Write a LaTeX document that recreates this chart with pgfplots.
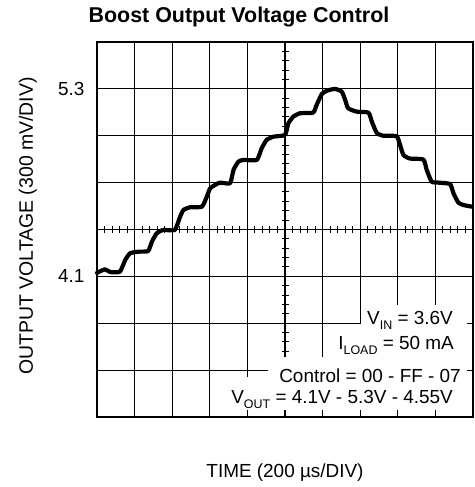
\documentclass[border=0pt]{standalone}
\usepackage{pgfplots}
\pgfplotsset{compat=1.18}
\usepackage{fontspec}
\setmainfont{Liberation Sans}
\newcommand{\sub}[1]{\raisebox{-0.5ex}{\fontsize{12.5}{13}\selectfont #1}}
\begin{document}
\begin{tikzpicture}
\path[use as bounding box] (-97bp,-70bp) rectangle (378bp,417bp);
\begin{axis}[
  at={(0,0)}, anchor=south west,
  scale only axis, width=376bp, height=375bp,
  xmin=0, xmax=10, ymin=3.2, ymax=5.6,
  xtick={0,1,2,3,4,5,6,7,8,9,10}, xticklabels={},
  ytick={3.2,3.5,3.8,4.1,4.4,4.7,5.0,5.3,5.6},
  yticklabels={,,,4.1,,,,5.3,},
  grid=major, major grid style={black, line width=1.1bp},
  tick align=inside, major tick length=5bp,
  tick style={black, line width=1.1bp},
  axis line style={black, line width=1.8bp},
  ticklabel style={font=\fontsize{19}{22}\selectfont},
  /pgf/number format/assume math mode=true,
  yticklabel style={xshift=-9bp},
  clip=false,
]
\pgfplotsinvokeforeach{1,...,49}{
  \draw[line width=1bp] ([yshift=-3.5bp]axis cs:#1*0.2,4.4) -- ([yshift=3.5bp]axis cs:#1*0.2,4.4);
}
\pgfplotsinvokeforeach{1,...,39}{
  \draw[line width=1bp] ([xshift=-3.5bp]axis cs:5,3.2+#1*0.06) -- ([xshift=3.5bp]axis cs:5,3.2+#1*0.06);
}
\addplot[black, line width=4.2bp, line join=round, line cap=round, smooth, tension=0.3] coordinates {
(0.00,4.123) (0.21,4.145) (0.35,4.128) (0.61,4.130) (0.75,4.205) (0.88,4.248)
(1.10,4.258) (1.36,4.262) (1.46,4.322) (1.59,4.376) (1.76,4.397) (2.07,4.397)
(2.21,4.482) (2.30,4.525) (2.47,4.542) (2.79,4.546) (2.92,4.610) (3.01,4.664)
(3.14,4.685) (3.27,4.700) (3.54,4.696) (3.63,4.781) (3.76,4.834) (3.89,4.845)
(4.25,4.845) (4.38,4.920) (4.51,4.973) (4.69,4.994) (5.00,5.005) (5.09,5.080)
(5.22,5.122) (5.40,5.144) (5.75,5.148) (5.84,5.197) (5.98,5.267) (6.11,5.288)
(6.33,5.300) (6.51,5.282) (6.60,5.229) (6.68,5.176) (6.91,5.154) (7.22,5.148)
(7.31,5.090) (7.44,5.018) (7.61,5.000) (7.97,4.997) (8.06,4.941) (8.15,4.877)
(8.32,4.854) (8.68,4.848) (8.77,4.781) (8.90,4.706) (9.08,4.700) (9.39,4.691)
(9.48,4.632) (9.61,4.572) (9.74,4.557) (9.97,4.546)
};
\end{axis}
% white boxes behind the annotation text
\fill[white] (264bp,93bp) rectangle (370bp,112bp);
\fill[white] (235bp,60bp) rectangle (370bp,93bp);
\fill[white] (171bp,35bp) rectangle (370bp,60bp);
\fill[white] (127bp,7bp) rectangle (370bp,40bp);
\begin{scope}[every node/.style={inner sep=0pt, font=\fontsize{19}{22}\selectfont}]
\node[anchor=base east] at (356bp,92bp) {V\sub{IN} = 3.6V};
\node[anchor=base east] at (357bp,67bp) {I\sub{LOAD} = 50 mA};
\node[anchor=base east] at (364bp,35bp) {Control = 00 - FF - 07};
\node[anchor=base east] at (356bp,14bp) {V\sub{OUT} = 4.1V - 5.3V - 4.55V};
\node[anchor=base] at (188bp,-60bp) {TIME (200 \textmu s/DIV)};
\node[anchor=base, rotate=90, font=\fontsize{19.5}{22}\selectfont] at (-64bp,191bp) {OUTPUT VOLTAGE (300 mV/DIV)};
\node[anchor=base, font=\bfseries\fontsize{21.5}{24}\selectfont] at (142bp,394bp) {Boost Output Voltage Control};
\end{scope}
\end{tikzpicture}
\end{document}
